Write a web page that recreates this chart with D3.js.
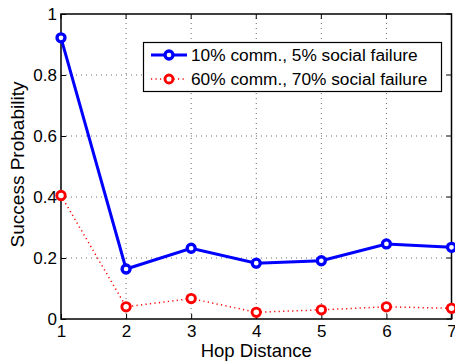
<!DOCTYPE html>
<html>
<head>
<meta charset="utf-8">
<script src="https://cdn.jsdelivr.net/npm/d3@7"></script>
<style>
  html, body { margin: 0; padding: 0; background: #fff; }
  svg { display: block; font-family: "Liberation Sans", Arial, Helvetica, sans-serif; }
</style>
</head>
<body>
<svg id="chart" width="455" height="362"></svg>
<script>
// Hop distance categories
const hops = [1, 2, 3, 4, 5, 6, 7];
// Success probability per hop for each failure scenario
const lowFailure = [0.922, 0.164, 0.232, 0.183, 0.191, 0.246, 0.235];
const highFailure = [0.405, 0.040, 0.067, 0.022, 0.030, 0.040, 0.035];
const seriesNames = ["10% comm., 5% social failure", "60% comm., 70% social failure"];
const yTicks = [0, 0.2, 0.4, 0.6, 0.8, 1];
const yTickLabels = ["0", "0.2", "0.4", "0.6", "0.8", "1"];

const svg = d3.select("#chart");
const margin = { left: 61, right: 3.5, top: 14, bottom: 43 };
const W = 455, H = 362;
const x = d3.scaleLinear().domain([1, 7]).range([margin.left, W - margin.right]);
const y = d3.scaleLinear().domain([0, 1]).range([H - margin.bottom, margin.top]);

const x0 = x.range()[0], x1 = x.range()[1], y0 = y.range()[0], y1 = y.range()[1];

// Dotted grid
const grid = svg.append("g").attr("stroke", "#444").attr("stroke-width", 0.8)
  .attr("stroke-dasharray", "1,4");
hops.slice(1, -1).forEach(h => grid.append("line")
  .attr("x1", x(h)).attr("x2", x(h)).attr("y1", y0).attr("y2", y1));
yTicks.slice(1, -1).forEach(v => grid.append("line")
  .attr("x1", x0).attr("x2", x1).attr("y1", y(v)).attr("y2", y(v)));

// Axes with inward ticks
const xAxis = d3.axisBottom(x).tickValues(hops).tickFormat(d3.format("d")).tickSizeInner(-5).tickSizeOuter(0).tickPadding(6);
const yAxis = d3.axisLeft(y).tickValues(yTicks).tickFormat((d, i) => yTickLabels[i]).tickSizeInner(-5).tickSizeOuter(0).tickPadding(4);

const gx = svg.append("g").attr("transform", `translate(0,${y0})`).call(xAxis);
const gy = svg.append("g").attr("transform", `translate(${x0},0)`).call(yAxis);
[gx, gy].forEach(g => {
  g.select(".domain").remove();
  g.selectAll("line").attr("stroke", "#000").attr("stroke-width", 1);
  g.selectAll("text").attr("fill", "#000").attr("font-size", 17)
    .attr("font-family", "\"Liberation Sans\", Arial, sans-serif");
});
gx.selectAll("text").attr("dy", "0.71em");
// top/right mirrored ticks
const gTop = svg.append("g");
hops.forEach(h => gTop.append("line").attr("x1", x(h)).attr("x2", x(h)).attr("y1", y1).attr("y2", y1 + 5).attr("stroke", "#000"));
yTicks.forEach(v => gTop.append("line").attr("x1", x1).attr("x2", x1 - 5).attr("y1", y(v)).attr("y2", y(v)).attr("stroke", "#000"));

// Frame
svg.append("rect").attr("x", x0).attr("y", y1).attr("width", x1 - x0).attr("height", y0 - y1)
  .attr("fill", "none").attr("stroke", "#000").attr("stroke-width", 1.5);

const line = d3.line().x((d, i) => x(hops[i])).y(d => y(d));

// High-failure series: dotted red
svg.append("path").datum(highFailure).attr("d", line)
  .attr("fill", "none").attr("stroke", "#ff0000").attr("stroke-width", 1.5)
  .attr("stroke-dasharray", "1.2,3.3");
svg.append("g").selectAll("circle").data(highFailure).join("circle")
  .attr("cx", (d, i) => x(hops[i])).attr("cy", d => y(d)).attr("r", 4.2)
  .attr("fill", "#fff").attr("stroke", "#ff0000").attr("stroke-width", 2.9);

// Low-failure series: solid blue
svg.append("path").datum(lowFailure).attr("d", line)
  .attr("fill", "none").attr("stroke", "#0000ff").attr("stroke-width", 3);
svg.append("g").selectAll("circle").data(lowFailure).join("circle")
  .attr("cx", (d, i) => x(hops[i])).attr("cy", d => y(d)).attr("r", 4)
  .attr("fill", "#fff").attr("stroke", "#0000ff").attr("stroke-width", 3.3);

// Legend
const lg = svg.append("g");
lg.append("rect").attr("x", 143.5).attr("y", 42.5).attr("width", 298).attr("height", 49)
  .attr("fill", "#fff").attr("stroke", "#000").attr("stroke-width", 1.2);
const rows = [
  { name: seriesNames[0], color: "#0000ff", dash: null, w: 3, cy: 55, sw: 3.3 },
  { name: seriesNames[1], color: "#ff0000", dash: "1.2,3.3", w: 1.5, cy: 79, sw: 2.9 }
];
rows.forEach(r => {
  lg.append("line").attr("x1", 151).attr("x2", 187).attr("y1", r.cy).attr("y2", r.cy)
    .attr("stroke", r.color).attr("stroke-width", r.w).attr("stroke-dasharray", r.dash);
  lg.append("circle").attr("cx", 169).attr("cy", r.cy).attr("r", 4)
    .attr("fill", "#fff").attr("stroke", r.color).attr("stroke-width", r.sw);
  lg.append("text").attr("x", 191).attr("y", r.cy).attr("dy", "0.35em")
    .attr("font-size", 17.3).attr("fill", "#000").text(r.name);
});

// Axis titles
svg.append("text").attr("x", (x0 + x1) / 2).attr("y", 357).attr("text-anchor", "middle")
  .attr("font-size", 18.5).attr("fill", "#000").text("Hop Distance");
svg.append("text").attr("transform", `translate(24,${(y0 + y1) / 2 - 2}) rotate(-90)`)
  .attr("text-anchor", "middle").attr("font-size", 19).attr("fill", "#000").text("Success Probability");
</script>
</body>
</html>
